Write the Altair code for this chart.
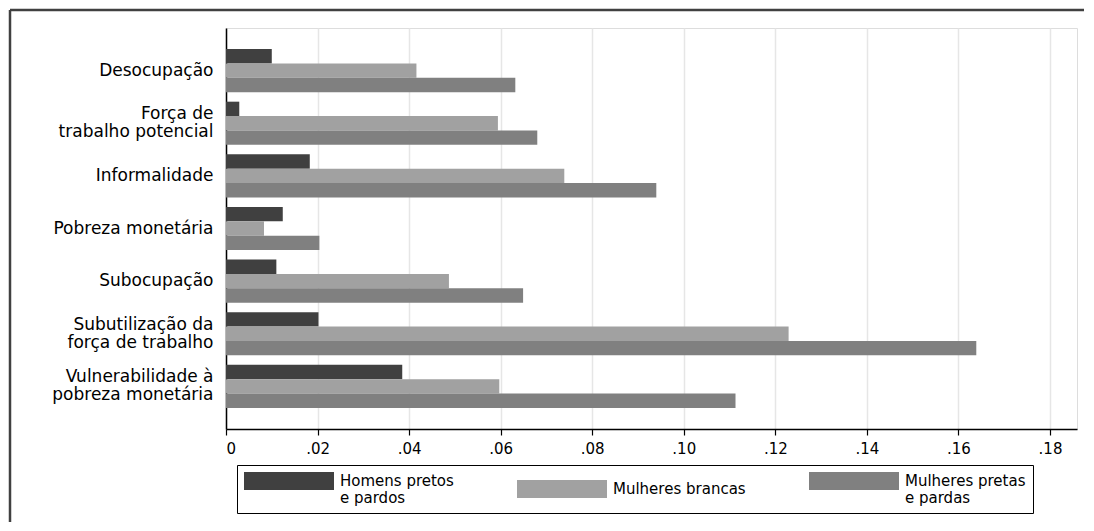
import altair as alt
import pandas as pd

categories = [
    "Desocupação",
    "Força de|trabalho potencial",
    "Informalidade",
    "Pobreza monetária",
    "Subocupação",
    "Subutilização da|força de trabalho",
    "Vulnerabilidade à|pobreza monetária",
]
series = ["Homens pretos|e pardos", "Mulheres brancas", "Mulheres pretas|e pardas"]
homens_pretos_pardos = [0.0100, 0.0029, 0.0183, 0.0124, 0.0110, 0.0202, 0.0385]
mulheres_brancas = [0.0416, 0.0594, 0.0739, 0.0083, 0.0487, 0.1229, 0.0597]
mulheres_pretas_pardas = [0.0632, 0.0680, 0.0940, 0.0204, 0.0649, 0.1639, 0.1113]
tick_values = [0, 0.02, 0.04, 0.06, 0.08, 0.10, 0.12, 0.14, 0.16, 0.18]
colors = ["#404040", "#a1a1a1", "#808080"]

rows = []
for s, vals in zip(series, [homens_pretos_pardos, mulheres_brancas, mulheres_pretas_pardas]):
    for c, v in zip(categories, vals):
        rows.append({"cat": c, "grupo": s, "valor": v})
df = pd.DataFrame(rows)

W, H = 851, 401
FONT = "DejaVu Sans"

bars = alt.Chart(df).mark_bar().encode(
    y=alt.Y(
        "cat:N",
        sort=categories,
        title=None,
        scale=alt.Scale(paddingInner=0.18, paddingOuter=0.4),
        axis=alt.Axis(
            labelExpr="split(datum.label, '|')",
            labelFont=FONT,
            labelFontSize=17,
            labelColor="#000000",
            labelLineHeight=18,
            labelOffset=alt.condition("indexof(datum.label, '|') >= 0", alt.value(-9), alt.value(0)),
            labelPadding=13,
            labelLimit=400,
            ticks=False,
            domainColor="#000000",
            domainWidth=1.5,
            grid=False,
        ),
    ),
    yOffset=alt.YOffset("grupo:N", sort=series, scale=alt.Scale(paddingInner=0, paddingOuter=0)),
    x=alt.X(
        "valor:Q",
        title=None,
        scale=alt.Scale(domain=[0, 0.1859], nice=False, zero=True),
        axis=alt.Axis(
            values=tick_values,
            labelExpr="datum.value == 0 ? '0' : replace(format(datum.value, '.2f'), '0.', '.')",
            labelFont=FONT,
            labelFontSize=15,
            labelColor="#000000",
            labelPadding=6,
            tickSize=6,
            tickColor="#000000",
            tickWidth=1.2,
            domainColor="#000000",
            domainWidth=1.5,
            grid=True,
            gridColor="#e6e6e6",
            gridWidth=1.5,
        ),
    ),
    color=alt.Color(
        "grupo:N",
        sort=series,
        scale=alt.Scale(domain=series, range=colors),
        legend=alt.Legend(
            title=None,
            orient="none",
            legendX=11,
            legendY=437,
            direction="horizontal",
            columns=3,
            columnPadding=63,
            labelExpr="split(datum.label, '|')",
            labelFont=FONT,
            labelFontSize=15,
            labelColor="#000000",
            labelOffset=78,
            labelLimit=400,
            symbolType="M-1,-1L9,-1L9,1L-1,1Z",
            symbolSize=324,
            symbolStrokeWidth=0,
            symbolOpacity=1,
            strokeColor="#000000",
            padding=7,
        ),
    ),
)

frame_data = pd.DataFrame({"f": [0]})
frame_top = alt.Chart(frame_data).mark_rule(color="#404040", strokeWidth=2.5).encode(
    x=alt.value(-216), x2=alt.value(858), y=alt.value(-18)
)
frame_left = alt.Chart(frame_data).mark_rule(color="#404040", strokeWidth=2.5).encode(
    x=alt.value(-216), y=alt.value(-18), y2=alt.value(494)
)

chart = (
    alt.layer(bars, frame_top, frame_left)
    .properties(width=W, height=H, padding={"left": 0, "top": 0, "right": 0, "bottom": 0})
    .configure_view(stroke=None)
    .configure(background="#ffffff")
)

chart.save("out.html", embed_options={"renderer": "svg", "actions": False})
